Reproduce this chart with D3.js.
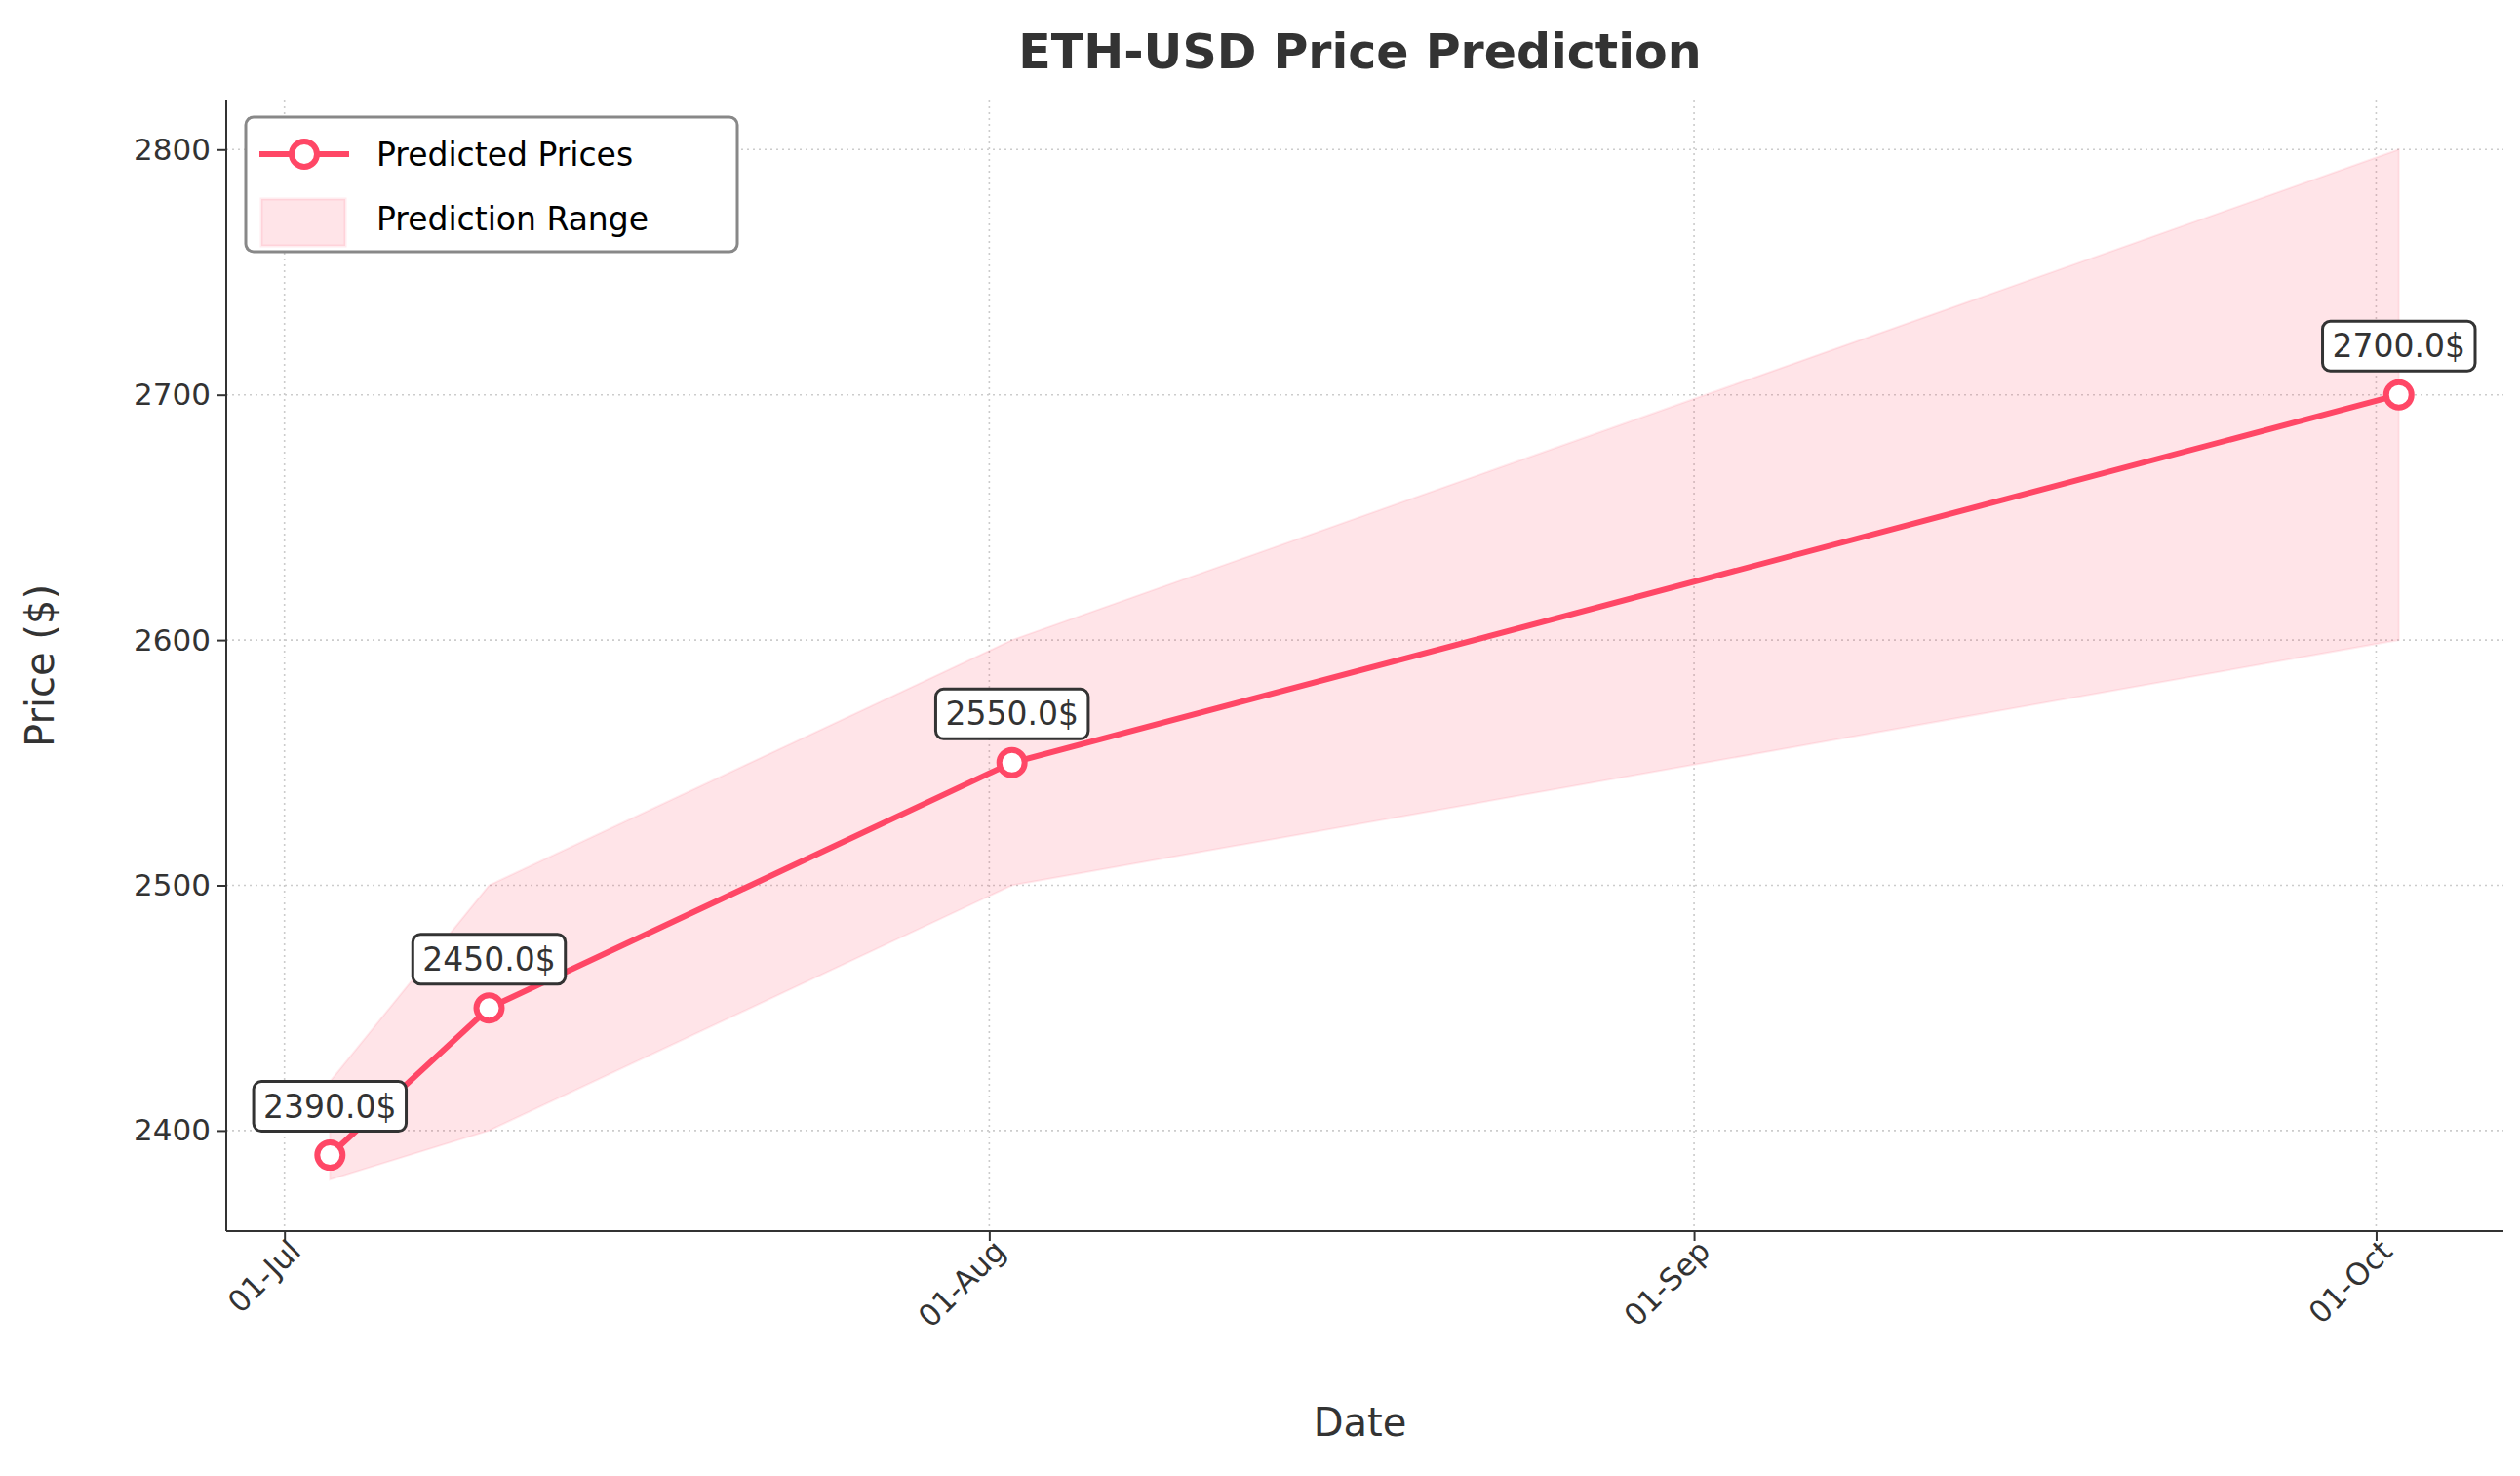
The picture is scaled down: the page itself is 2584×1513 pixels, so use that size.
<!DOCTYPE html><html><head><meta charset="utf-8">
<script src="https://cdn.jsdelivr.net/npm/d3@7"></script>
<style>body{margin:0;background:#fff}svg{font-family:"DejaVu Sans",sans-serif}</style></head><body>
<script>
const dates = ["2024-07-03","2024-07-10","2024-08-02","2024-10-02"];
const predicted = [2390,2450,2550,2700];
const lower = [2380,2400,2500,2600];
const upper = [2420,2500,2600,2800];
const xTicks = ["2024-07-01","2024-08-01","2024-09-01","2024-10-01"];
const yTicks = [2400,2500,2600,2700,2800];

const W=2584,H=1513, L=232,R=2567,T=103,B=1262;
const p=d3.utcParse("%Y-%m-%d");
const data=dates.map((d,i)=>({d:p(d),v:predicted[i],lo:lower[i],hi:upper[i]}));
const svg=d3.select("body").append("svg").attr("width",W).attr("height",H);
const x=d3.scaleUtc().domain([p("2024-06-28").getTime()+0.44*864e5, p("2024-10-06").getTime()+0.6*864e5]).range([L,R]);
const y=d3.scaleLinear().domain([2359,2820]).range([B,T]);
const col="#ff4766";
svg.append("g").selectAll("line").data(xTicks).join("line").attr("x1",d=>x(p(d))).attr("x2",d=>x(p(d))).attr("y1",T).attr("y2",B).attr("stroke","#ccc").attr("stroke-width",1.6).attr("stroke-dasharray","2,4");
svg.append("g").selectAll("line").data(yTicks).join("line").attr("y1",d=>y(d)).attr("y2",d=>y(d)).attr("x1",L).attr("x2",R).attr("stroke","#ccc").attr("stroke-width",1.6).attr("stroke-dasharray","2,4");
svg.append("path").datum(data).attr("d",d3.area().x(d=>x(d.d)).y0(d=>y(d.lo)).y1(d=>y(d.hi))).attr("fill",col).attr("fill-opacity",0.15).attr("stroke",col).attr("stroke-opacity",0.1).attr("stroke-width",2);
svg.append("path").datum(data).attr("d",d3.line().x(d=>x(d.d)).y(d=>y(d.v))).attr("fill","none").attr("stroke",col).attr("stroke-width",6);
svg.append("g").selectAll("circle").data(data).join("circle").attr("cx",d=>x(d.d)).attr("cy",d=>y(d.v)).attr("r",13).attr("fill","#fff").attr("stroke",col).attr("stroke-width",6);
data.forEach(d=>{
  const g=svg.append("g").attr("transform",`translate(${x(d.d)},${y(d.v)-50})`);
  const t=g.append("text").attr("text-anchor","middle").attr("dy","0.35em").attr("font-size",33).attr("fill","#333").text(d.v.toFixed(1)+"$");
  const bb=t.node().getBBox();
  g.insert("rect","text").attr("x",bb.x-10).attr("y",bb.y-6).attr("width",bb.width+20).attr("height",bb.height+12).attr("rx",8).attr("fill","#fff").attr("stroke","#333").attr("stroke-width",3);
});
const xa=svg.append("g").attr("transform",`translate(0,${B})`).call(d3.axisBottom(x).tickValues(xTicks.map(p)).tickFormat(d3.utcFormat("%d-%b")).tickSize(10).tickSizeOuter(0));
const ya=svg.append("g").attr("transform",`translate(${L},0)`).call(d3.axisLeft(y).tickValues(yTicks).tickFormat(d3.format("d")).tickSize(10).tickSizeOuter(0));
[xa,ya].forEach(a=>a.attr("font-size",31).attr("font-family","DejaVu Sans"));
xa.selectAll("text").attr("fill","#333").attr("text-anchor","end").attr("transform","rotate(-45)").attr("dx","-0.1em").attr("dy","0.5em");
ya.selectAll("text").attr("fill","#333").attr("dx","-0.1em");
svg.selectAll(".domain,.tick line").attr("stroke","#333").attr("stroke-width",2);
xa.select(".domain").attr("d",`M${L},0H${R}`);
ya.select(".domain").attr("d",`M0,${T}V${B}`);
svg.append("text").attr("x",(L+R)/2-5).attr("y",1472).attr("text-anchor","middle").attr("font-size",40).attr("fill","#333").text("Date");
svg.append("text").attr("transform",`translate(55,${(T+B)/2}) rotate(-90)`).attr("text-anchor","middle").attr("font-size",40).attr("fill","#333").text("Price ($)");
svg.append("text").attr("x",(L+R)/2-5).attr("y",70).attr("text-anchor","middle").attr("font-size",49).attr("font-weight","bold").attr("fill","#333").text("ETH-USD Price Prediction");
const lg=svg.append("g").attr("transform","translate(252,120)");
lg.append("rect").attr("width",504).attr("height",138).attr("rx",8).attr("fill","#fff").attr("stroke","#888").attr("stroke-width",3);
lg.append("line").attr("x1",14).attr("x2",106).attr("y1",38).attr("y2",38).attr("stroke",col).attr("stroke-width",6);
lg.append("circle").attr("cx",60).attr("cy",38).attr("r",13).attr("fill","#fff").attr("stroke",col).attr("stroke-width",6);
lg.append("rect").attr("x",16).attr("y",84).attr("width",86).attr("height",48).attr("fill",col).attr("fill-opacity",0.15).attr("stroke",col).attr("stroke-opacity",0.1).attr("stroke-width",3);
lg.append("text").attr("x",134).attr("y",38).attr("dy","0.35em").attr("font-size",33).text("Predicted Prices");
lg.append("text").attr("x",134).attr("y",104).attr("dy","0.35em").attr("font-size",33).text("Prediction Range");
</script></body></html>
